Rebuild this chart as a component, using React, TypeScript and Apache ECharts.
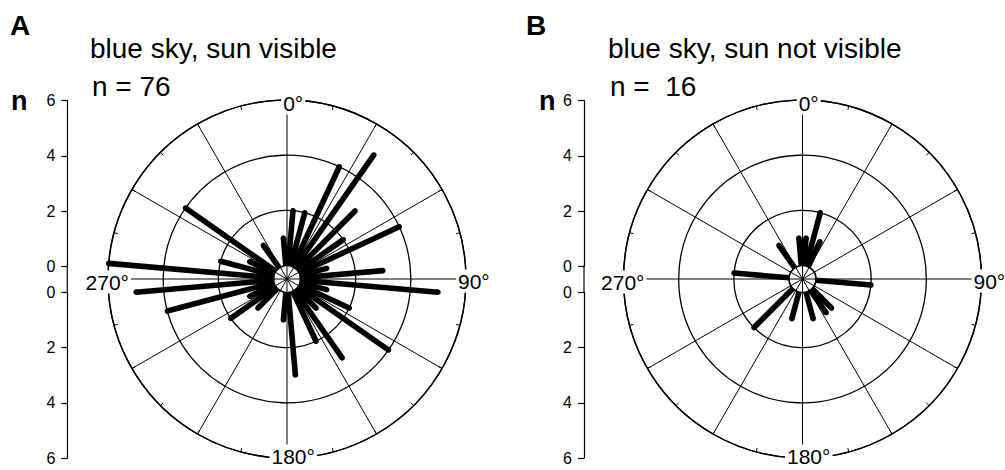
import React, { useEffect, useRef } from "react";
import * as echarts from "echarts";

// Circular histograms: direction (deg, 10° bins) and number of observations n
const LEFT_ANGLES = [5, 15, 25, 35, 45, 55, 65, 75, 85, 95, 105, 115, 125, 135, 145, 155, 175, 185, 225, 235, 245, 255, 265, 275, 285, 295, 305, 325, 355];
const LEFT_COUNTS = [2, 2, 4, 5, 3, 2, 4, 1, 3, 5, 1, 2, 4, 1, 3, 2, 3, 1, 1, 2, 1, 4, 5, 6, 2, 1, 4, 1, 1];

const RIGHT_ANGLES = [5, 15, 25, 95, 135, 145, 165, 195, 225, 275, 325, 355];
const RIGHT_COUNTS = [1, 2, 1, 2, 1, 1, 1, 1, 2, 2, 1, 1];

const PANEL_LETTERS = ["A", "B"];
const PANEL_TITLES = ["blue sky, sun visible", "blue sky, sun not visible"];
const PANEL_N = ["n = 76", "n =  16"];
const DIRECTION_LABELS = ["0°", "90°", "180°", "270°"];
const N_MAX = 6;
const N_STEP = 2;

const FONT = '"Liberation Sans", Arial, Helvetica, sans-serif';

export default function App() {
  const ref = useRef<HTMLDivElement>(null);

  useEffect(() => {
    document.body.style.margin = "0";
    if (!ref.current) return;
    const chart = echarts.init(ref.current, null, { renderer: "svg" });

    const cy = 279;
    const R = 179;
    const hole = 13.5;
    const panels = [
      { cx: 287, axisX: 67.3, angles: LEFT_ANGLES, counts: LEFT_COUNTS, letterX: 10, titleX: 90, nX: 11 },
      { cx: 802.5, axisX: 584, angles: RIGHT_ANGLES, counts: RIGHT_COUNTS, letterX: 526, titleX: 608, nX: 539 },
    ];
    const upperTop = cy - R + 0.7;
    const axisSpan = R - hole;

    const polar: any[] = [];
    const angleAxis: any[] = [];
    const radiusAxis: any[] = [];
    const grid: any[] = [];
    const xAxis: any[] = [];
    const yAxis: any[] = [];
    const series: any[] = [];
    const graphic: any[] = [];

    const lineStyle = { color: "#000", width: 1.2 };

    panels.forEach((p, i) => {
      // main polar ring (data + circles + spokes)
      const mainIdx = polar.length;
      polar.push({ center: [p.cx, cy], radius: [hole, R] });
      angleAxis.push({
        polarIndex: mainIdx,
        type: "value",
        min: 0,
        max: 360,
        interval: 30,
        startAngle: 90,
        clockwise: true,
        axisLine: { show: true, lineStyle: { color: "#000", width: 1.4 } },
        axisTick: { show: true, inside: true, length: 4, lineStyle: { color: "#000", width: 1 } },
        minorTick: { show: true, splitNumber: 2, length: 4, lineStyle: { color: "#000", width: 1 } },
        axisLabel: { show: false },
        splitLine: { show: true, lineStyle: { color: "#000", width: 1 } },
      });
      radiusAxis.push({
        polarIndex: mainIdx,
        type: "value",
        min: 0,
        max: N_MAX,
        interval: N_STEP,
        axisLine: { show: false },
        axisTick: { show: false },
        axisLabel: { show: false },
        splitLine: { show: true, lineStyle: { color: "#000", width: 1.3 } },
      });
      // spokes continuing through the central hole
      const holeIdx = polar.length;
      polar.push({ center: [p.cx, cy], radius: [0, hole] });
      angleAxis.push({
        polarIndex: holeIdx,
        type: "value",
        min: 0,
        max: 360,
        interval: 30,
        startAngle: 90,
        axisLine: { show: false },
        axisTick: { show: false },
        axisLabel: { show: false },
        splitLine: { show: true, lineStyle: { color: "#000", width: 1 } },
      });
      radiusAxis.push({
        polarIndex: holeIdx,
        type: "value",
        min: 0,
        max: 1,
        show: false,
        splitLine: { show: false },
      });

      series.push({
        type: "custom",
        coordinateSystem: "polar",
        polarIndex: mainIdx,
        data: p.angles.map((a, k) => [p.counts[k], a]),
        renderItem: (_params: any, api: any) => {
          const n = api.value(0);
          const a = api.value(1);
          const p0 = api.coord([0, a]);
          const p1 = api.coord([n, a]);
          return {
            type: "group",
            children: [
              {
                type: "line",
                shape: { x1: p0[0], y1: p0[1], x2: p1[0], y2: p1[1] },
                style: { stroke: "#000", lineWidth: 5.6, lineCap: "butt" },
              },
              { type: "circle", shape: { cx: p1[0], cy: p1[1], r: 2.8 }, style: { fill: "#000" } },
            ],
          };
        },
        z: 5,
      });

      // n scale: upper half counts up, lower half counts down
      for (let h = 0; h < 2; h++) {
        const gi = grid.length;
        grid.push({
          left: p.axisX,
          top: h === 0 ? upperTop : cy + hole,
          width: 10,
          height: axisSpan,
          containLabel: false,
        });
        xAxis.push({ gridIndex: gi, type: "value", show: false, min: 0, max: 1 });
        yAxis.push({
          gridIndex: gi,
          type: "value",
          min: 0,
          max: N_MAX,
          interval: N_STEP,
          inverse: h === 1,
          axisLine: { show: true, lineStyle },
          axisTick: { show: true, length: 6, lineStyle },
          axisLabel: { color: "#000", fontSize: 16, fontFamily: FONT, margin: 12 },
          splitLine: { show: false },
        });
      }
      graphic.push({
        type: "line",
        shape: { x1: p.axisX, y1: cy - hole, x2: p.axisX, y2: cy + hole },
        style: { stroke: "#000", lineWidth: 1.2 },
      });

      const txt = (text: string, x: number, y: number, size: number, weight: string, align: string, bg = false) => ({
        type: "text",
        z: 20,
        style: {
          text,
          x,
          y,
          fill: "#000",
          font: `${weight} ${size}px ${FONT}`,
          align,
          textAlign: align,
          verticalAlign: "middle",
          textVerticalAlign: "middle",
          ...(bg ? { backgroundColor: "#fff", padding: [1, 2, 1, 2] } : {}),
        },
      });

      graphic.push(txt(PANEL_LETTERS[i], p.letterX, 25, 28, "bold", "left"));
      graphic.push(txt(PANEL_TITLES[i], p.titleX, 48, 28, "normal", "left"));
      graphic.push(txt(PANEL_N[i], p.titleX + 2, 86, 28, "normal", "left"));
      graphic.push(txt("n", p.nX, 101, 27, "bold", "left"));

      graphic.push(txt(DIRECTION_LABELS[0], p.cx - 5.8, cy - R + 3, 21, "normal", "left", true));
      graphic.push(txt(DIRECTION_LABELS[1], p.cx + R - 10, cy + 2, 21, "normal", "left", true));
      graphic.push(txt(DIRECTION_LABELS[2], p.cx - 17.5, cy + R - 2, 21, "normal", "left", true));
      graphic.push(txt(DIRECTION_LABELS[3], p.cx - R + 23, cy + 3, 21, "normal", "right", true));
    });

    chart.setOption({
      animation: false,
      backgroundColor: "#fff",
      polar,
      angleAxis,
      radiusAxis,
      grid,
      xAxis,
      yAxis,
      series,
      graphic,
    });

    return () => chart.dispose();
  }, []);

  return <div ref={ref} style={{ width: 1005, height: 470 }} />;
}
